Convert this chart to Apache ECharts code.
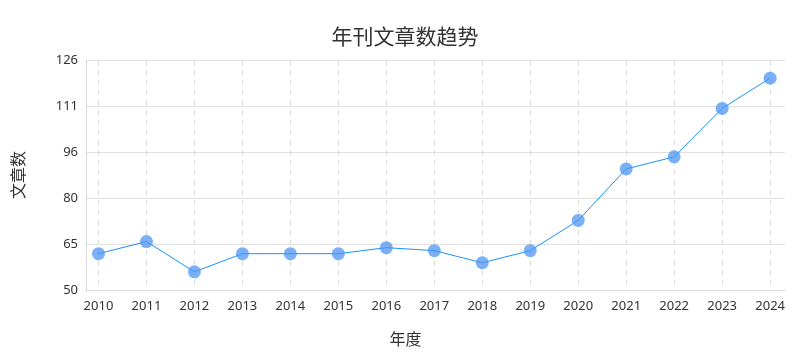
<!DOCTYPE html>
<html>
<head>
<meta charset="utf-8">
<script src="https://cdn.jsdelivr.net/npm/echarts@6/dist/echarts.min.js"></script>
<style>html,body{margin:0;padding:0;background:#fff;}#c{width:810px;height:360px;}</style>
</head>
<body>
<div id="c"></div>
<script>
var years = [2010,2011,2012,2013,2014,2015,2016,2017,2018,2019,2020,2021,2022,2023,2024];
var counts = [62,66,56,62,62,62,64,63,59,63,73,90,94,110,120];
var titleText = '年刊文章数趋势';
var xName = '年度';
var yName = '文章数';

var chart = echarts.init(document.getElementById('c'), null, {renderer: 'canvas'});
var cjk = '"Noto Sans CJK SC", "Noto Sans", sans-serif';
var latin = '"Noto Sans", "Noto Sans CJK SC", sans-serif';
chart.setOption({
  animation: false,
  textStyle: {fontFamily: cjk},
  title: {text: titleText, left: 'center', top: 21, textStyle: {fontSize: 21, fontWeight: 'normal', color: '#333', fontFamily: cjk}},
  grid: {left: 86, right: 25, top: 60, bottom: 70},
  xAxis: {
    type: 'value', min: 2009.74, max: 2024.31,
    name: xName, nameLocation: 'middle', nameGap: 41,
    nameTextStyle: {fontSize: 16, color: '#333', padding: [0, 60, 0, 0]},
    axisLine: {show: true, lineStyle: {color: '#d9d9d9'}},
    axisTick: {show: false, customValues: years},
    axisLabel: {fontSize: 13, color: '#333', margin: 10, fontFamily: latin, customValues: years,
      formatter: function (v) { return String(Math.round(v)); }},
    splitLine: {show: true, lineStyle: {color: '#dcdcdc', type: [5, 5]}}
  },
  yAxis: {
    type: 'value', min: 50, max: 126, interval: 15.2,
    name: yName, nameLocation: 'middle', nameGap: 60,
    nameTextStyle: {fontSize: 16, color: '#333'},
    axisLine: {show: true, lineStyle: {color: '#d9d9d9'}},
    axisTick: {show: false},
    axisLabel: {fontSize: 13, color: '#333', margin: 8, fontFamily: latin, formatter: function (v) { return String(Math.round(v)); }},
    splitLine: {show: true, lineStyle: {color: '#e0e0e0'}}
  },
  series: [{
    type: 'line',
    data: years.map(function (y, i) { return [y, counts[i]]; }),
    symbol: 'circle', symbolSize: 13,
    itemStyle: {color: '#4f96f3', opacity: 0.75},
    lineStyle: {color: '#1890ff', width: 1}
  }]
});
</script>
</body>
</html>
